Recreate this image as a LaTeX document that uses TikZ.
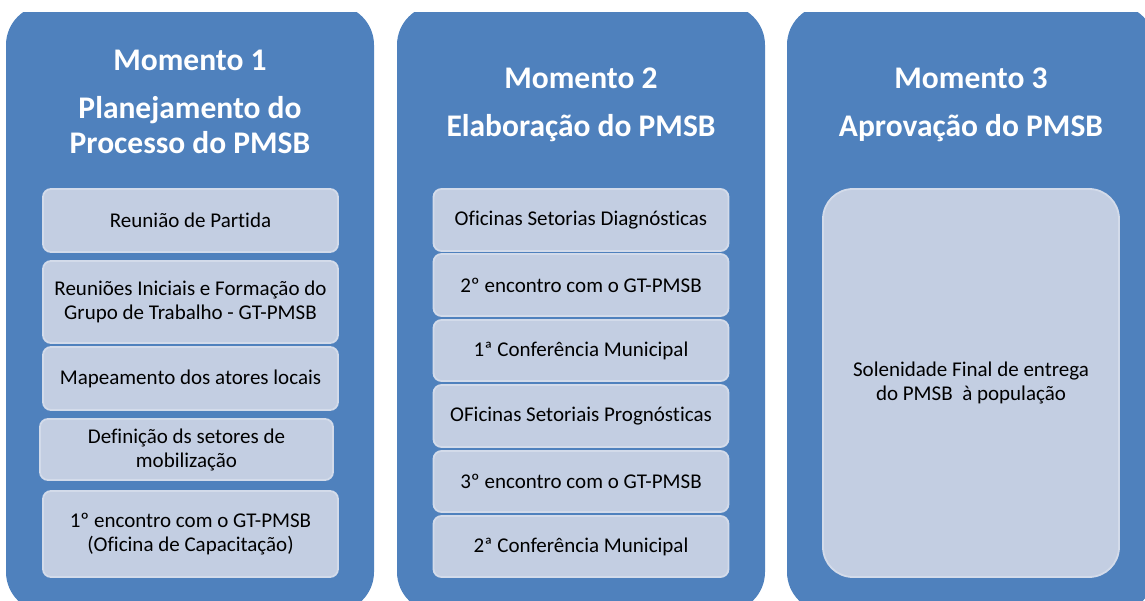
\documentclass[tikz,border=0pt]{standalone}
\usepackage{fontspec}
\setmainfont{Carlito}[Ligatures=NoCommon]
\usepackage{tikz}
\usetikzlibrary{positioning}
\definecolor{momblue}{HTML}{4F81BD}
\definecolor{etapafill}{HTML}{C3CEE2}
\definecolor{etapaline}{HTML}{D3DBEA}
\newcommand{\titlefont}{\fontsize{31.5}{35}\selectfont\bfseries}
\newcommand{\etapafont}{\fontsize{21}{24}\selectfont}
\tikzset{
	momento/.style={fill=momblue, rounded corners=40pt, minimum width=368pt, minimum height=607pt},
	titulo/.style={text=white, font=\titlefont, align=center, inner sep=0pt, anchor=north},
	etapa/.style={fill=etapafill, draw=etapaline, line width=1.8pt, rounded corners=8pt, align=center, font=\etapafont, inner sep=2pt, minimum width=295pt}
}

\begin{document}
\begin{tikzpicture}[x=1pt, y=-1pt]
	\useasboundingbox (0,0) rectangle (1145,601);
	\clip (0,13) rectangle (1145,601);

	% Momento 1
	\node[momento] (mom1) at (190,308.5) {};
	\node[titulo] (tit1) at (190,50) {Momento 1\\[13pt]Planejamento do\\Processo do PMSB};
	\node[etapa, minimum height=63pt] (partida) at (190.5,220.5) {Reunião de Partida};
	\node[etapa, minimum height=82pt] (iniciais) at (190.5,302) {Reuniões Iniciais e Formação do\\Grupo de Trabalho - GT-PMSB};
	\node[etapa, minimum height=63pt] (mapeamento) at (190.5,378.5) {Mapeamento dos atores locais};
	\node[etapa, minimum width=293pt, minimum height=61pt] (setores) at (186.5,449.5) {Definição ds setores de\\mobilização};
	\node[etapa, minimum height=86pt] (encontro1) at (190.5,534) {1º encontro com o GT-PMSB\\(Oficina de Capacitação)};

	% Momento 2
	\node[momento] (mom2) at (581,308.5) {};
	\node[titulo] (tit2) at (581,68) {Momento 2\\[13pt]Elaboração do PMSB};
	\node[etapa, minimum height=62pt] (diagnostico) at (581,220) {Oficinas Setorias Diagnósticas};
	\node[etapa, minimum height=62pt] (encontro2) at (581,285) {2º encontro com o GT-PMSB};
	\node[etapa, minimum height=61pt] (conf1) at (581,350.5) {1ª Conferência Municipal};
	\node[etapa, minimum height=62pt] (prognostico) at (581,416) {OFicinas Setoriais Prognósticas};
	\node[etapa, minimum height=61pt] (encontro3) at (581,481.5) {3º encontro com o GT-PMSB};
	\node[etapa, minimum height=61pt] (conf2) at (581,546.5) {2ª Conferência Municipal};

	% Momento 3
	\node[momento] (mom3) at (971,308.5) {};
	\node[titulo] (tit3) at (971,68) {Momento 3\\[13pt]Aprovação do PMSB};
	\node[etapa, rounded corners=30pt, minimum width=296pt, minimum height=388pt] (solenidade) at (971,383) {Solenidade Final de entrega\\do PMSB~ à população};
\end{tikzpicture}
\end{document}
